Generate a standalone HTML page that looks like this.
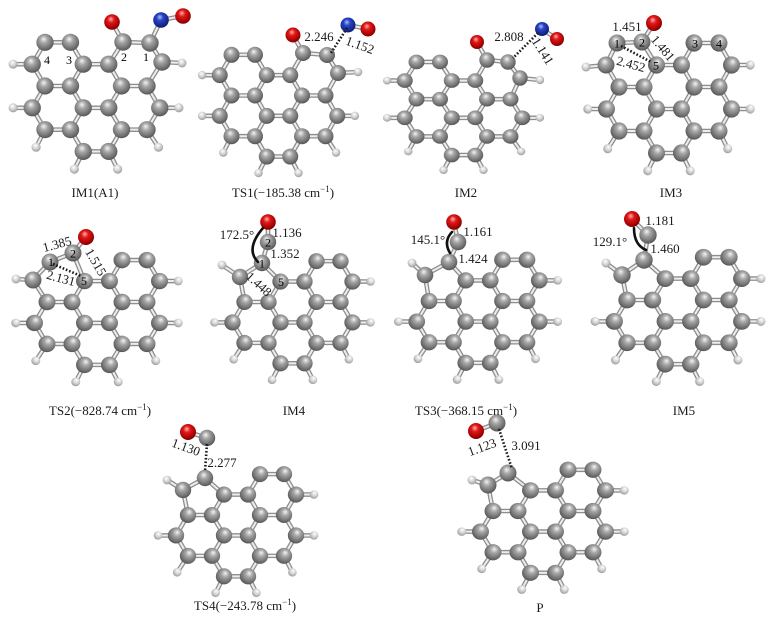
<!DOCTYPE html>
<html>
<head>
<meta charset="utf-8">
<style>
html,body{margin:0;padding:0;background:#fff;}
body{width:784px;height:622px;overflow:hidden;}
svg{display:block;}
.bo{fill:none;stroke:#8e8e8e;stroke-width:4.6;stroke-linecap:round;stroke-linejoin:round;}
.bi{fill:none;stroke:#ededed;stroke-width:2;stroke-linecap:round;stroke-linejoin:round;}
.dot{fill:none;stroke:#1a1a1a;stroke-width:2.6;stroke-dasharray:1.6 1.9;}
.arc{fill:none;stroke:#111;stroke-width:2.6;stroke-linecap:round;}
text{font-family:"Liberation Serif","Times New Roman",serif;font-size:13px;fill:#1a1a1a;}
.cap{text-anchor:middle;}
.lab{text-anchor:middle;}
.num{text-anchor:middle;font-size:12px;fill:#000;}
</style>
</head>
<body>
<svg width="784" height="622" viewBox="0 0 784 622" xmlns="http://www.w3.org/2000/svg">
<defs>
<radialGradient id="gC" cx="0.45" cy="0.4" r="0.62" fx="0.42" fy="0.3">
<stop offset="0" stop-color="#f4f4f4"/>
<stop offset="0.35" stop-color="#a6a6a6"/>
<stop offset="0.85" stop-color="#686868"/>
<stop offset="1" stop-color="#505050"/>
</radialGradient>
<radialGradient id="gH" cx="0.45" cy="0.4" r="0.62" fx="0.42" fy="0.3">
<stop offset="0" stop-color="#ffffff"/>
<stop offset="0.5" stop-color="#d6d6d6"/>
<stop offset="1" stop-color="#9a9a9a"/>
</radialGradient>
<radialGradient id="gO" cx="0.45" cy="0.4" r="0.62" fx="0.42" fy="0.3">
<stop offset="0" stop-color="#ffb0b0"/>
<stop offset="0.35" stop-color="#e01818"/>
<stop offset="0.85" stop-color="#a00000"/>
<stop offset="1" stop-color="#6a0000"/>
</radialGradient>
<radialGradient id="gN" cx="0.45" cy="0.4" r="0.62" fx="0.42" fy="0.3">
<stop offset="0" stop-color="#b0c0ff"/>
<stop offset="0.35" stop-color="#2a44c4"/>
<stop offset="0.85" stop-color="#122488"/>
<stop offset="1" stop-color="#0a1560"/>
</radialGradient>
<g id="core">
<path class="bo" vector-effect="non-scaling-stroke" d="M-1 -1.732L-2 -1.732L-2.5 -0.866L-2 0L-1 0L-0.5 -0.866Z M-2 0L-2.5 0.866L-2 1.732L-1 1.732L-0.5 0.866L-1 0 M-0.5 -0.866L0.5 -0.866L1 0L0.5 0.866L-0.5 0.866 M1 0L2 0L2.5 0.866L2 1.732L1 1.732L0.5 0.866 M-1 1.732L-0.5 2.598L0.5 2.598L1 1.732 M-2.5 -0.866L-3.25 -0.866 M-2.5 0.866L-3.25 0.866 M-2 1.732L-2.35 2.43 M-0.5 2.598L-0.85 3.3 M0.5 2.598L0.85 3.3 M2 1.732L2.45 2.43 M2.5 0.866L3.25 0.866"/>
<path class="bi" vector-effect="non-scaling-stroke" d="M-1 -1.732L-2 -1.732L-2.5 -0.866L-2 0L-1 0L-0.5 -0.866Z M-2 0L-2.5 0.866L-2 1.732L-1 1.732L-0.5 0.866L-1 0 M-0.5 -0.866L0.5 -0.866L1 0L0.5 0.866L-0.5 0.866 M1 0L2 0L2.5 0.866L2 1.732L1 1.732L0.5 0.866 M-1 1.732L-0.5 2.598L0.5 2.598L1 1.732 M-2.5 -0.866L-3.25 -0.866 M-2.5 0.866L-3.25 0.866 M-2 1.732L-2.35 2.43 M-0.5 2.598L-0.85 3.3 M0.5 2.598L0.85 3.3 M2 1.732L2.45 2.43 M2.5 0.866L3.25 0.866"/>
<g fill="url(#gH)">
<circle cx="-3.25" cy="-0.866" r="0.18"/>
<circle cx="-3.25" cy="0.866" r="0.18"/>
<circle cx="-2.35" cy="2.43" r="0.18"/>
<circle cx="-0.85" cy="3.3" r="0.18"/>
<circle cx="0.85" cy="3.3" r="0.18"/>
<circle cx="2.45" cy="2.43" r="0.18"/>
<circle cx="3.25" cy="0.866" r="0.18"/>
</g>
<g fill="url(#gC)">
<circle cx="-1" cy="-1.732" r="0.34"/>
<circle cx="-2" cy="-1.732" r="0.34"/>
<circle cx="-2.5" cy="-0.866" r="0.34"/>
<circle cx="-0.5" cy="-0.866" r="0.34"/>
<circle cx="-1" cy="0" r="0.34"/>
<circle cx="-2" cy="0" r="0.34"/>
<circle cx="-2.5" cy="0.866" r="0.34"/>
<circle cx="-0.5" cy="0.866" r="0.34"/>
<circle cx="-1" cy="1.732" r="0.34"/>
<circle cx="-2" cy="1.732" r="0.34"/>
<circle cx="1" cy="0" r="0.34"/>
<circle cx="0.5" cy="-0.866" r="0.34"/>
<circle cx="0.5" cy="0.866" r="0.34"/>
<circle cx="2" cy="0" r="0.34"/>
<circle cx="2.5" cy="0.866" r="0.34"/>
<circle cx="1" cy="1.732" r="0.34"/>
<circle cx="2" cy="1.732" r="0.34"/>
<circle cx="0.5" cy="2.598" r="0.34"/>
<circle cx="-0.5" cy="2.598" r="0.34"/>
</g>
</g>
</defs>

<rect width="784" height="622" fill="#fff"/>

<!-- extra bonds -->
<path class="bo" d="M108.75 64.2L123 42L150 43L162 62L147 86 M162 62L182 63 M123 42L112 22 M150 43L161 20L183 16
M290.25 75.2L303 53L327 55L338 73L325.5 95.5 M338 73L358 72 M303 53L293 35 M348 25L368 29
M475.25 80.6L487 60L508 62L520 78L510.5 99.2 M520 78L540 80 M487 60L477 42 M542 29L557 39
M656.5 65L642 42L617 43L606 65L619 87 M606 65L586 67 M642 42L654 23
M84.5 281L73 253L50 262L33 280L47 302 M33 280L16 279 M73 253L86 237
M280.5 281.6L262 263L240 277L244.5 302 M240 277L222 265 M262 263L268 242L268 222
M465.75 280.4L449 262L425 275L429 301 M425 275L412 263 M449 262L458 242L454 222
M665.25 278.6L644 260L622 275L627 300 M622 275L606 263 M644 260L648 235L632 219
M224 494.6L205 478L183 490L188 515 M183 490L167 480 M207 438L188 432
M530.5 490.4L508 473L488 485L493 511 M488 485L472 480 M497 423L476 431"/>
<path class="bi" d="M108.75 64.2L123 42L150 43L162 62L147 86 M162 62L182 63 M123 42L112 22 M150 43L161 20L183 16
M290.25 75.2L303 53L327 55L338 73L325.5 95.5 M338 73L358 72 M303 53L293 35 M348 25L368 29
M475.25 80.6L487 60L508 62L520 78L510.5 99.2 M520 78L540 80 M487 60L477 42 M542 29L557 39
M656.5 65L642 42L617 43L606 65L619 87 M606 65L586 67 M642 42L654 23
M84.5 281L73 253L50 262L33 280L47 302 M33 280L16 279 M73 253L86 237
M280.5 281.6L262 263L240 277L244.5 302 M240 277L222 265 M262 263L268 242L268 222
M465.75 280.4L449 262L425 275L429 301 M425 275L412 263 M449 262L458 242L454 222
M665.25 278.6L644 260L622 275L627 300 M622 275L606 263 M644 260L648 235L632 219
M224 494.6L205 478L183 490L188 515 M183 490L167 480 M207 438L188 432
M530.5 490.4L508 473L488 485L493 511 M488 485L472 480 M497 423L476 431"/>

<!-- cores -->
<use href="#core" transform="translate(96 86) scale(25.5 25.2)"/>
<use href="#core" transform="translate(278.5 95.5) scale(23.5 23.5)"/>
<use href="#core" transform="translate(463.5 99.2) scale(23.5 21.5)"/>
<use href="#core" transform="translate(669 87) scale(-25 25.4)"/>
<use href="#core" transform="translate(97 302) scale(-25 24.2)"/>
<use href="#core" transform="translate(292.5 302) scale(-24 23.6)"/>
<use href="#core" transform="translate(478 301) scale(-24.5 23.8)"/>
<use href="#core" transform="translate(678 300) scale(-25.5 24.7)"/>
<use href="#core" transform="translate(236 515) scale(-24 23.6)"/>
<use href="#core" transform="translate(543 511) scale(-25 23.8)"/>

<!-- extra atoms -->
<g fill="url(#gH)">
<circle cx="182" cy="63" r="4.5"/>
<circle cx="358" cy="72" r="4.3"/>
<circle cx="540" cy="80" r="4.2"/>
<circle cx="586" cy="67" r="4.5"/>
<circle cx="16" cy="279" r="4.5"/>
<circle cx="222" cy="265" r="4.4"/>
<circle cx="412" cy="263" r="4.4"/>
<circle cx="606" cy="263" r="4.5"/>
<circle cx="167" cy="480" r="4.4"/>
<circle cx="472" cy="480" r="4.5"/>
</g>
<g fill="url(#gC)">
<circle cx="123" cy="42" r="8.7"/>
<circle cx="150" cy="43" r="8.7"/>
<circle cx="162" cy="62" r="8.7"/>
<circle cx="303" cy="53" r="8"/>
<circle cx="327" cy="55" r="8"/>
<circle cx="338" cy="73" r="8"/>
<circle cx="487" cy="60" r="7.7"/>
<circle cx="508" cy="62" r="7.7"/>
<circle cx="520" cy="78" r="7.7"/>
<circle cx="617" cy="43" r="8.5"/>
<circle cx="642" cy="42" r="8.5"/>
<circle cx="606" cy="65" r="8.5"/>
<circle cx="50" cy="262" r="8.5"/>
<circle cx="73" cy="253" r="8.5"/>
<circle cx="33" cy="280" r="8.5"/>
<circle cx="262" cy="263" r="8.2"/>
<circle cx="240" cy="277" r="8.2"/>
<circle cx="268" cy="242" r="8.2"/>
<circle cx="449" cy="262" r="8.3"/>
<circle cx="425" cy="275" r="8.3"/>
<circle cx="458" cy="242" r="8.3"/>
<circle cx="644" cy="260" r="8.7"/>
<circle cx="622" cy="275" r="8.7"/>
<circle cx="648" cy="235" r="8.7"/>
<circle cx="205" cy="478" r="8.2"/>
<circle cx="183" cy="490" r="8.2"/>
<circle cx="207" cy="438" r="8.2"/>
<circle cx="508" cy="473" r="8.5"/>
<circle cx="488" cy="485" r="8.5"/>
<circle cx="497" cy="423" r="8.5"/>
</g>
<g fill="url(#gO)">
<circle cx="112" cy="22" r="7.8"/>
<circle cx="183" cy="16" r="7.8"/>
<circle cx="293" cy="35" r="7.5"/>
<circle cx="368" cy="29" r="7.5"/>
<circle cx="477" cy="42" r="7"/>
<circle cx="557" cy="39" r="7"/>
<circle cx="654" cy="23" r="8"/>
<circle cx="86" cy="237" r="8"/>
<circle cx="268" cy="222" r="7.8"/>
<circle cx="454" cy="222" r="7.8"/>
<circle cx="632" cy="219" r="8"/>
<circle cx="188" cy="432" r="8"/>
<circle cx="476" cy="431" r="8"/>
</g>
<g fill="url(#gN)">
<circle cx="161" cy="20" r="7.8"/>
<circle cx="348" cy="25" r="7.5"/>
<circle cx="542" cy="29" r="7"/>
</g>

<!-- dotted contacts -->
<path class="dot" d="M347 28L331 53"/>
<path class="dot" d="M538 33L513 58"/>
<path class="dot" d="M621 46L651 62"/>
<path class="dot" d="M53 264L81 276"/>
<path class="dot" d="M207 444L205 471"/>
<path class="dot" d="M499 429L512 469"/>

<!-- angle arcs -->
<path class="arc" d="M263 228Q245 249 258 262"/>
<path class="arc" d="M452 232Q443 241.5 450 253"/>
<path class="arc" d="M634 228Q634 245 646 250"/>

<!-- atom numbers -->
<text class="num" x="47" y="64">4</text>
<text class="num" x="69" y="64">3</text>
<text class="num" x="124" y="61">2</text>
<text class="num" x="146" y="61">1</text>

<text class="num" x="617" y="47.5">1</text>
<text class="num" x="642" y="46.5">2</text>
<text class="num" x="656" y="69.5">5</text>
<text class="num" x="695" y="47.5">3</text>
<text class="num" x="719" y="47.5">4</text>

<text class="num" x="51" y="266">1</text>
<text class="num" x="73" y="257.5">2</text>
<text class="num" x="84" y="285">5</text>

<text class="num" x="268" y="246.5">2</text>
<text class="num" x="262" y="267.5">1</text>
<text class="num" x="281" y="286">5</text>

<!-- measurement labels -->
<text class="lab" x="319" y="41">2.246</text>
<text class="lab" transform="translate(360 45) rotate(20)" dy="4.5">1.152</text>
<text class="lab" x="509" y="41">2.808</text>
<text class="lab" transform="translate(543 51) rotate(58)" dy="4.5">1.141</text>
<text class="lab" x="627" y="31">1.451</text>
<text class="lab" transform="translate(663 48) rotate(50)" dy="4.5">1.481</text>
<text class="lab" transform="translate(631 64) rotate(15)" dy="4.5">2.452</text>

<text class="lab" transform="translate(57 244) rotate(-15)" dy="4.5">1.385</text>
<text class="lab" transform="translate(96 262) rotate(60)" dy="4.5">1.515</text>
<text class="lab" transform="translate(61 278) rotate(15)" dy="4.5">2.131</text>

<text class="lab" x="237" y="239">172.5°</text>
<text class="lab" x="287" y="237">1.136</text>
<text class="lab" x="285" y="258">1.352</text>
<text class="lab" transform="translate(259 284) rotate(42)" dy="4.5">1.448</text>

<text class="lab" x="428" y="244">145.1°</text>
<text class="lab" x="478" y="236">1.161</text>
<text class="lab" x="473" y="263">1.424</text>

<text class="lab" x="660" y="225">1.181</text>
<text class="lab" x="610" y="246">129.1°</text>
<text class="lab" x="665" y="253">1.460</text>

<text class="lab" transform="translate(186 447) rotate(20)" dy="4.5">1.130</text>
<text class="lab" x="222" y="467">2.277</text>
<text class="lab" transform="translate(482 447) rotate(-20)" dy="4.5">1.123</text>
<text class="lab" x="526" y="450">3.091</text>

<!-- captions -->
<text class="cap" x="95" y="197">IM1(A1)</text>
<text class="cap" x="283" y="197">TS1(−185.38 cm<tspan dy="-5" font-size="9">−1</tspan><tspan dy="5">)</tspan></text>
<text class="cap" x="466" y="197">IM2</text>
<text class="cap" x="671" y="197">IM3</text>

<text class="cap" x="100" y="415">TS2(−828.74 cm<tspan dy="-5" font-size="9">−1</tspan><tspan dy="5">)</tspan></text>
<text class="cap" x="294" y="415">IM4</text>
<text class="cap" x="466" y="415">TS3(−368.15 cm<tspan dy="-5" font-size="9">−1</tspan><tspan dy="5">)</tspan></text>
<text class="cap" x="684" y="415">IM5</text>

<text class="cap" x="245" y="610">TS4(−243.78 cm<tspan dy="-5" font-size="9">−1</tspan><tspan dy="5">)</tspan></text>
<text class="cap" x="540" y="612">P</text>
</svg>
</body>
</html>
